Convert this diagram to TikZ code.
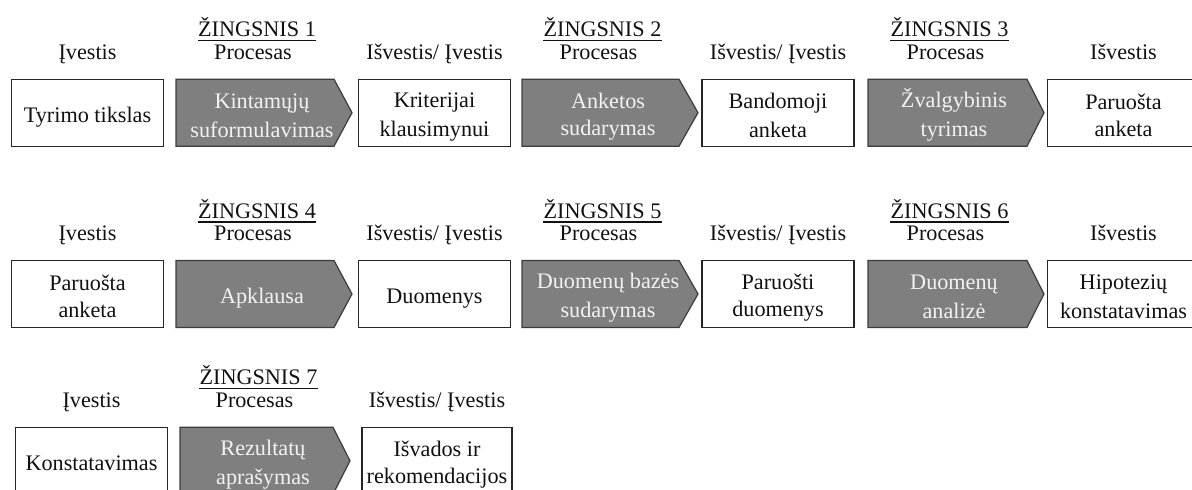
\documentclass[tikz,border=0pt]{standalone}
\usepackage{fontspec}
\setmainfont{Liberation Serif}
\definecolor{procgray}{HTML}{7F7F7F}
\definecolor{procedge}{HTML}{3C3C3C}
\definecolor{proctext}{HTML}{F2F2F2}
\definecolor{boxline}{HTML}{262626}
\definecolor{ink}{HTML}{111111}
\newcommand\ft{\fontsize{22.2}{27}\selectfont}
% line strut: every line of a box text gets the same height and depth
\newcommand\lnstrut{\rule[-3.5pt]{0pt}{27pt}}
% grey process arrow: left edge, end of the straight part, tip, centre line
\newcommand\procshape[4]{%
  \filldraw[procbody] (#1,#4-33.5) -- (#2,#4-33.5) -- (#3,#4) -- (#2,#4+33.5) -- (#1,#4+33.5) -- cycle;}
\tikzset{
  iobox/.style={draw=boxline, line width=1.2pt, fill=white, minimum width=152pt,
    minimum height=67pt, inner sep=0pt, align=center, font=\ft, text=ink},
  procbody/.style={fill=procgray, draw=procedge, line width=1.2pt, line join=miter},
  proctxt/.style={inner sep=0pt, align=center, font=\ft, text=proctext},
  hdr/.style={anchor=base, inner sep=0pt, font=\ft, text=ink},
  uline/.style={draw=ink, line width=1.1pt}
}
\begin{document}
\begin{tikzpicture}[x=1pt,y=-1pt]
\useasboundingbox (0,0) rectangle (1192,490);
\clip (0,0) rectangle (1192,490);

% ---------- row 1 (steps 1-3) ----------
\node[iobox] (r1a) at (87.5,112.7) {\lnstrut Tyrimo tikslas};
\procshape{176}{334}{352}{112.7}
\node[proctxt] (r1p1) at (262,112.7) {\lnstrut Kintamųjų\\\lnstrut suformulavimas};
\node[iobox] (r1b) at (434.5,112.7) {\lnstrut Kriterijai\\\lnstrut klausimynui};
\procshape{522}{679}{698}{112.7}
\node[proctxt] (r1p2) at (608,112.7) {\lnstrut Anketos\\\lnstrut sudarymas};
\node[iobox] (r1c) at (778,112.7) {\lnstrut Bandomoji\\\lnstrut anketa};
\procshape{868}{1027}{1044}{112.7}
\node[proctxt] (r1p3) at (954,112.7) {\lnstrut Žvalgybinis\\\lnstrut tyrimas};
\node[iobox] (r1d) at (1123.5,112.7) {\lnstrut Paruošta\\\lnstrut anketa};

\node[hdr] (h1a) at (87.5,59.3) {Įvestis};
\node[hdr] (h1p1) at (253,59.3) {Procesas};
\node[hdr] (s1) at (257,36.5) {ŽINGSNIS 1};
\node[hdr] (h1b) at (434.5,59.3) {Išvestis/ Įvestis};
\node[hdr] (h1p2) at (598.5,59.3) {Procesas};
\node[hdr] (s2) at (602.5,36.5) {ŽINGSNIS 2};
\node[hdr] (h1c) at (778,59.3) {Išvestis/ Įvestis};
\node[hdr] (h1p3) at (945.5,59.3) {Procesas};
\node[hdr] (s3) at (949.5,36.5) {ŽINGSNIS 3};
\node[hdr] (h1d) at (1123.5,59.3) {Išvestis};

% ---------- row 2 (steps 4-6) ----------
\node[iobox] (r2a) at (87.5,294) {\lnstrut Paruošta\\\lnstrut anketa};
\procshape{176}{334}{352}{294}
\node[proctxt] (r2p1) at (262,294) {\lnstrut Apklausa};
\node[iobox] (r2b) at (434.5,294) {\lnstrut Duomenys};
\procshape{522}{679}{698}{294}
\node[proctxt] (r2p2) at (608,294) {\lnstrut Duomenų bazės\\\lnstrut sudarymas};
\node[iobox] (r2c) at (778,294) {\lnstrut Paruošti\\\lnstrut duomenys};
\procshape{868}{1027}{1044}{294}
\node[proctxt] (r2p3) at (954,294) {\lnstrut Duomenų\\\lnstrut analizė};
\node[iobox] (r2d) at (1123.5,294) {\lnstrut Hipotezių\\\lnstrut konstatavimas};

\node[hdr] (h2a) at (87.5,240.7) {Įvestis};
\node[hdr] (h2p1) at (253,240.7) {Procesas};
\node[hdr] (s4) at (257,218) {ŽINGSNIS 4};
\node[hdr] (h2b) at (434.5,240.7) {Išvestis/ Įvestis};
\node[hdr] (h2p2) at (598.5,240.7) {Procesas};
\node[hdr] (s5) at (602.5,218) {ŽINGSNIS 5};
\node[hdr] (h2c) at (778,240.7) {Išvestis/ Įvestis};
\node[hdr] (h2p3) at (945.5,240.7) {Procesas};
\node[hdr] (s6) at (949.5,218) {ŽINGSNIS 6};
\node[hdr] (h2d) at (1123.5,240.7) {Išvestis};

% ---------- row 3 (step 7) ----------
\node[iobox] (r3a) at (91.5,460.8) {\lnstrut Konstatavimas};
\procshape{180}{333}{350}{460.8}
\node[proctxt] (r3p1) at (263,460.8) {\lnstrut Rezultatų\\\lnstrut aprašymas};
\node[iobox, minimum width=150pt] (r3b) at (437,460.8) {\lnstrut Išvados ir\\\lnstrut rekomendacijos};

\node[hdr] (h3a) at (91.5,407.3) {Įvestis};
\node[hdr] (h3p1) at (254.5,407.3) {Procesas};
\node[hdr] (s7) at (258.5,384.5) {ŽINGSNIS 7};
\node[hdr] (h3b) at (437,407.3) {Išvestis/ Įvestis};

% underlines of the step titles
\foreach \s in {s1,s2,s3,s4,s5,s6,s7}
  \draw[uline] ([yshift=-4pt]\s.base west) -- ([yshift=-4pt]\s.base east);
\end{tikzpicture}
\end{document}
